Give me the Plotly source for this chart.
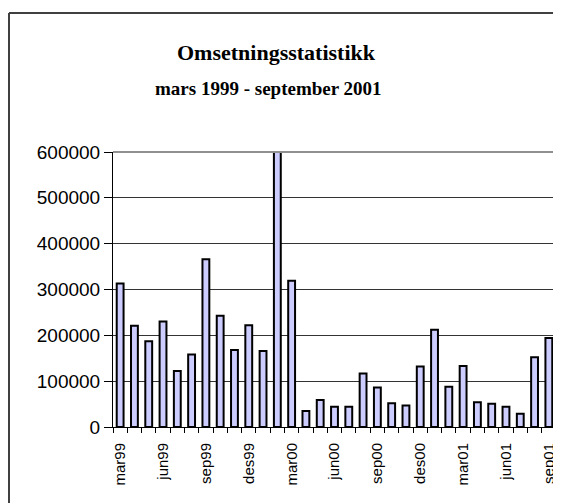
import plotly.graph_objects as go

months = ["mar99","apr99","mai99","jun99","jul99","aug99","sep99","okt99","nov99","des99",
          "jan00","feb00","mar00","apr00","mai00","jun00","jul00","aug00","sep00","okt00","nov00","des00",
          "jan01","feb01","mar01","apr01","mai01","jun01","jul01","aug01","sep01"]
values = [313000, 221000, 187000, 230000, 122000, 158000, 366000, 243000, 168000, 222000,
          166000, 600000, 319000, 35000, 59000, 44000, 44000, 117000, 86000, 52000, 47000, 132000,
          212000, 88000, 133000, 54000, 51000, 44000, 29000, 152000, 194000]
labelled = ["mar99","jun99","sep99","des99","mar00","jun00","sep00","des00","mar01","jun01","sep01"]
y_ticks = [0, 100000, 200000, 300000, 400000, 500000, 600000]

ticktext = [m if m in labelled else "" for m in months]

# The page body has an 8px margin, so the figure is shifted by 8px in both directions.
W, H = 553, 495
L, R, T, B = 105, 5, 144, 76
PW, PH = W - L - R, H - T - B

fig = go.Figure(go.Bar(
    x=months, y=values,
    marker=dict(color="#CCCCFF", line=dict(color="black", width=2)),
))

fig.update_layout(
    width=W, height=H,
    margin=dict(l=L, r=R, t=T, b=B, autoexpand=False),
    paper_bgcolor="white", plot_bgcolor="white",
    bargap=0.52,
    showlegend=False,
    font=dict(family="Liberation Sans, Arial", color="black"),
)
fig.update_xaxes(
    type="category", range=[-0.5, len(months) - 0.5], automargin=False,
    tickmode="array", tickvals=months, ticktext=ticktext,
    tickson="boundaries", ticks="outside", ticklen=5, tickcolor="black", tickwidth=1,
    tickangle=-90, tickfont=dict(size=15), ticklabelstandoff=9,
    showgrid=False, showline=True, linecolor="black", linewidth=1,
    mirror=False,
)
fig.update_yaxes(
    range=[0, 600000], automargin=False, tickvals=y_ticks, ticktext=[str(v) for v in y_ticks],
    ticks="outside", ticklen=8, tickcolor="black",
    tickfont=dict(size=19),
    showgrid=True, gridcolor="#333333", gridwidth=1,
    showline=True, linecolor="black", linewidth=1,
    zeroline=False,
)
# gray border on top and right of plot area
fig.add_shape(type="line", xref="paper", yref="paper", x0=0, x1=1, y0=1, y1=1,
              line=dict(color="#909090", width=2))
fig.add_shape(type="line", xref="paper", yref="paper", x0=1, x1=1, y0=0, y1=1,
              line=dict(color="#909090", width=2))
# outer chart frame (top and left visible)
fx = (1 - L) / PW
fy = (H - B - 5) / PH
fig.add_shape(type="line", xref="paper", yref="paper",
              x0=fx, x1=1.2, y0=fy, y1=fy,
              line=dict(color="#404040", width=2))
fig.add_shape(type="line", xref="paper", yref="paper",
              x0=fx, x1=fx, y0=-0.5, y1=fy,
              line=dict(color="#404040", width=2))

fig.add_annotation(text="<b>Omsetningsstatistikk</b>", xref="paper", yref="paper",
                   x=(268 - L) / PW, y=(H - B - 45) / PH, xanchor="center", yanchor="middle",
                   showarrow=False, font=dict(family="Liberation Serif, Times New Roman", size=22, color="black"))
fig.add_annotation(text="<b>mars 1999 - september 2001</b>", xref="paper", yref="paper",
                   x=(260 - L) / PW, y=(H - B - 80) / PH, xanchor="center", yanchor="middle",
                   showarrow=False, font=dict(family="Liberation Serif, Times New Roman", size=19, color="black"))

fig.write_html("out.html")
